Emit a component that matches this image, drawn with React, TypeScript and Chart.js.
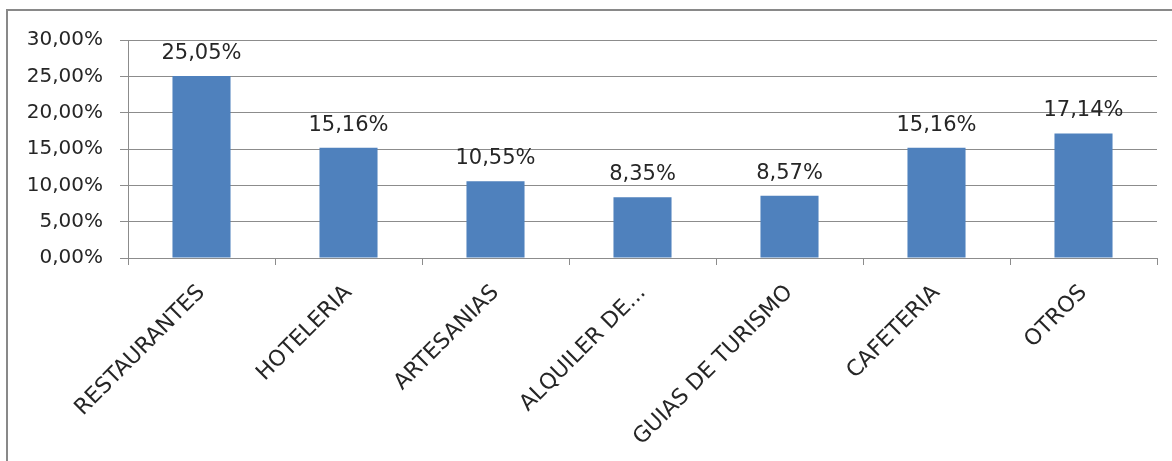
import React, { useEffect, useRef } from "react";
import { Chart, registerables } from "chart.js";

Chart.register(...registerables);

const categories = [
  "RESTAURANTES",
  "HOTELERIA",
  "ARTESANIAS",
  "ALQUILER DE...",
  "GUIAS DE TURISMO",
  "CAFETERIA",
  "OTROS",
];
const values = [25.05, 15.16, 10.55, 8.35, 8.57, 15.16, 17.14];
const yMin = 0;
const yMax = 30;
const yStep = 5;

const FONT = "'DejaVu Sans', sans-serif";
const TEXT = "#262626";
const GRID = "#8c8c8c";

const fmt = (v: number) => v.toFixed(2).replace(".", ",") + "%";

const valueLabels = {
  id: "valueLabels",
  afterDatasetsDraw(chart: any) {
    const ctx = chart.ctx;
    const meta = chart.getDatasetMeta(0);
    ctx.save();
    ctx.font = `21px ${FONT}`;
    ctx.fillStyle = TEXT;
    ctx.textAlign = "center";
    ctx.textBaseline = "alphabetic";
    meta.data.forEach((bar: any, i: number) => {
      ctx.fillText(fmt(values[i]), bar.x, bar.y - 17);
    });
    ctx.restore();
  },
};

export default function App() {
  const ref = useRef<HTMLCanvasElement>(null);
  useEffect(() => {
    if (!ref.current) return;
    const chart = new Chart(ref.current, {
      type: "bar",
      data: {
        labels: categories,
        datasets: [
          {
            data: values,
            backgroundColor: "#4F81BD",
            borderWidth: 0,
            barPercentage: 0.395,
            categoryPercentage: 1,
          },
        ],
      },
      options: {
        animation: false,
        responsive: false,
        maintainAspectRatio: false,
        layout: { padding: { top: 40, right: 15, left: 0, bottom: 0 } },
        plugins: { legend: { display: false }, tooltip: { enabled: false } },
        scales: {
          x: {
            afterFit: (s: any) => {
              s.height = 203;
            },
            grid: {
              offset: true,
              drawOnChartArea: false,
              color: GRID,
              tickLength: 7,
              lineWidth: 1,
            },
            border: { display: true, color: GRID, width: 1 },
            ticks: {
              color: TEXT,
              font: { family: FONT, size: 22 },
              minRotation: 45,
              maxRotation: 45,
              autoSkip: false,
              padding: 15,
            },
          },
          y: {
            min: yMin,
            max: yMax,
            afterFit: (s: any) => {
              s.width = 128;
            },
            grid: { color: GRID, tickLength: 8, lineWidth: 1 },
            border: { display: true, color: GRID, width: 1 },
            ticks: {
              stepSize: yStep,
              color: TEXT,
              font: { family: FONT, size: 20 },
              padding: 17,
              callback: (v: any) => fmt(Number(v)),
            },
          },
        },
      },
      plugins: [valueLabels],
    });
    return () => chart.destroy();
  }, []);

  return (
    <div
      style={{
        position: "absolute",
        left: 0,
        top: 0,
        width: 1172,
        height: 461,
        overflow: "hidden",
        background: "#fff",
      }}
    >
      <div
        style={{
          position: "absolute",
          left: 6,
          top: 9,
          width: 1200,
          height: 500,
          border: "2px solid #898989",
        }}
      />
      <canvas
        ref={ref}
        width={1172}
        height={461}
        style={{ position: "absolute", left: 0, top: 0, width: 1172, height: 461 }}
      />
    </div>
  );
}
